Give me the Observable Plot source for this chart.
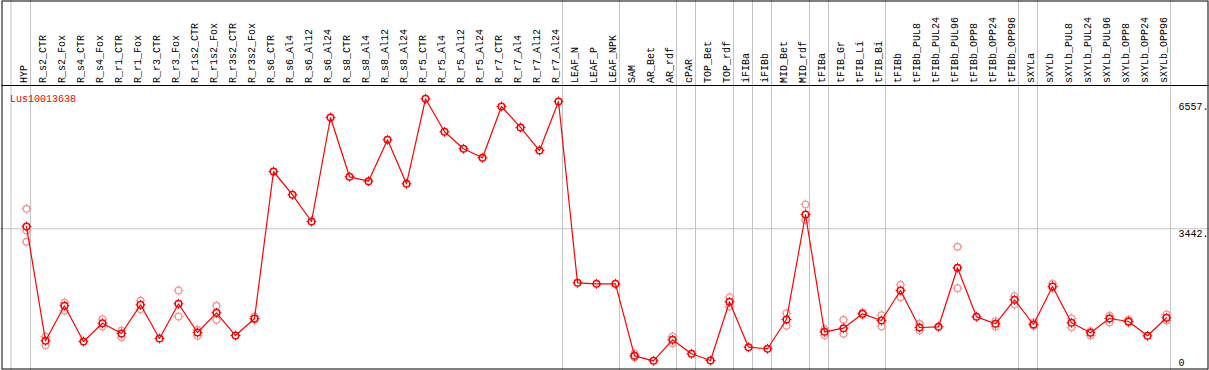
<!DOCTYPE html>
<html>
<head>
<meta charset="utf-8">
<script src="https://cdn.jsdelivr.net/npm/d3@7"></script>
<script src="https://cdn.jsdelivr.net/npm/@observablehq/plot@0.6"></script>
<style>
  html, body { margin: 0; padding: 0; background: #fff; }
  #chart svg { display: block; }
</style>
</head>
<body>
<div id="chart"></div>
<script>
// ---- data ----
const gene = "Lus10013638";

const categories = [
  "HYP", "R_s2_CTR", "R_s2_Fox", "R_s4_CTR", "R_s4_Fox", "R_r1_CTR", "R_r1_Fox",
  "R_r3_CTR", "R_r3_Fox", "R_r1s2_CTR", "R_r1s2_Fox", "R_r3s2_CTR", "R_r3s2_Fox",
  "R_s6_CTR", "R_s6_Al4", "R_s6_Al12", "R_s6_Al24", "R_s8_CTR", "R_s8_Al4", "R_s8_Al12",
  "R_s8_Al24", "R_r5_CTR", "R_r5_Al4", "R_r5_Al12", "R_r5_Al24", "R_r7_CTR", "R_r7_Al4",
  "R_r7_Al12", "R_r7_Al24", "LEAF_N", "LEAF_P", "LEAF_NPK", "SAM", "AR_Bet", "AR_rdf",
  "cPAR", "TOP_Bet", "TOP_rdf", "iFIBa", "iFIBb", "MID_Bet", "MID_rdf", "tFIBa",
  "tFIB_Gr", "tFIB_Li", "tFIB_Bi", "tFIBb", "tFIBb_PUL8", "tFIBb_PUL24", "tFIBb_PUL96",
  "tFIBb_OPP8", "tFIBb_OPP24", "tFIBb_OPP96", "sXYLa", "sXYLb", "sXYLb_PUL8",
  "sXYLb_PUL24", "sXYLb_PUL96", "sXYLb_OPP8", "sXYLb_OPP24", "sXYLb_OPP96"
];

// mean expression per sample (red line)
const means = [
  3497, 758, 1597, 742, 1180, 933, 1621,
  814, 1645, 957, 1429, 885, 1293,
  4815, 4257, 3617, 6109, 4688, 4583, 5575,
  4520, 6557, 5767, 5359, 5143, 6373, 5870,
  5318, 6493, 2148, 2124, 2124, 399, 279, 782,
  447, 286, 1693, 605, 567, 1269, 3785, 974,
  1060, 1405, 1245, 1964, 1077, 1094, 2508,
  1333, 1166, 1741, 1149, 2060, 1190,
  950, 1293, 1221, 878, 1310
];

// individual replicate values (pale circles), aligned with categories
const replicates = [
  [3921, 3401, 3131], [861, 653], [1676, 1484], [], [1276, 1101], [1005, 845], [1724, 1516],
  [], [1964, 1341], [1022, 878], [1597, 1262], [], [1341, 1262],
  [], [], [], [], [], [], [],
  [], [], [], [], [], [], [],
  [], [], [], [], [], [454, 365], [], [861, 701],
  [], [], [1803, 1580], [], [], [1420, 1118], [4024, 3650], [1036, 893],
  [1262, 926], [1437, 1380], [1372, 1101], [2100, 1803], [1166, 1005], [], [3011, 2019],
  [], [1228, 1101], [1827, 1628], [1197, 1118], [2124, 2028], [1293, 1084],
  [988, 885], [1357, 1197], [1262, 1197], [], [1389, 1245]
];

// last sample of each group (group separators)
const groupEnds = [
  "HYP", "R_r7_Al24", "LEAF_NPK", "AR_rdf", "cPAR", "TOP_rdf", "iFIBa", "iFIBb",
  "MID_rdf", "tFIBa", "tFIB_Bi", "tFIBb_OPP96", "sXYLa", "sXYLb_OPP96"
];

const yTicks = [6557, 3442, 0];
const yTickLabels = ["6557.", "3442.", "0"];

// ---- derived tables ----
const meanData = categories.map((c, i) => ({c, v: means[i]}));
const repData = categories.flatMap((c, i) => replicates[i].map(v => ({c, v})));
const tickData = yTicks.map((v, i) => ({v, label: yTickLabels[i]}));

const grid = "#c4c4c4";
const pale = "#f09a9a";
const red = "#ff0000";

function markerMarks(data, color) {
  return [
    Plot.dot(data, {x: "c", y: "v", symbol: "plus", r: 3.3, stroke: color, strokeWidth: 1}),
    Plot.dot(data, {x: "c", y: "v", r: 3.0, fill: "white", stroke: "none"}),
  ];
}

const chart = Plot.plot({
  width: 1209,
  height: 370,
  marginTop: 85,
  marginBottom: 0,
  marginLeft: 0,
  marginRight: 0,
  style: {
    fontFamily: "'Liberation Mono', 'DejaVu Sans Mono', monospace",
    fontSize: "10px",
    background: "white",
    color: "black"
  },
  x: {type: "point", domain: categories, range: [26.3, 1166.3], padding: 0, axis: null},
  y: {domain: [0, 6557], range: [371.95, 98.3], axis: null},
  marks: [
    // grid
    Plot.ruleY([3442], {stroke: grid, strokeWidth: 1}),
    Plot.ruleX(groupEnds, {x: d => d, dx: 4, stroke: grid, insetTop: -85}),
    Plot.ruleX(categories.slice(0, 1), {x: d => d, dx: -15.5, stroke: grid, insetTop: -85}),
    // frames
    Plot.frame({stroke: "black", insetLeft: 1.5, insetRight: 1.5, insetBottom: 1.5}),
    Plot.frame({stroke: "black", insetTop: -84.5, insetBottom: 285, insetLeft: 1.5, insetRight: 1.5}),
    // category labels (rotated)
    Plot.text(categories, {
      x: d => d, frameAnchor: "top", dy: -2.5, dx: 0.5, rotate: -90,
      textAnchor: "start", lineAnchor: "bottom", fill: "black"
    }),
    // gene name
    Plot.text([gene], {
      frameAnchor: "top-left", dx: 9.5, dy: 9, textAnchor: "start",
      lineAnchor: "top", fill: red
    }),
    // y tick labels
    Plot.text(tickData.slice(0, 1), {y: "v", text: "label", frameAnchor: "right", dx: -31, dy: 4.5, textAnchor: "start", lineAnchor: "top", fill: "black"}),
    Plot.text(tickData.slice(1, 2), {y: "v", text: "label", frameAnchor: "right", dx: -31, dy: 1.2, textAnchor: "start", lineAnchor: "top", fill: "black"}),
    Plot.text(tickData.slice(2), {text: "label", frameAnchor: "bottom-right", dx: -31, dy: -4.5, textAnchor: "start", lineAnchor: "bottom", fill: "black"}),
    // replicates
    ...markerMarks(repData, pale),
    Plot.dot(repData, {x: "c", y: "v", r: 3.3, stroke: pale, strokeWidth: 1.3, fill: "none"}),
    // means
    ...markerMarks(meanData, red),
    Plot.line(meanData, {x: "c", y: "v", stroke: red, strokeWidth: 1.2}),
    Plot.dot(meanData, {x: "c", y: "v", r: 3.3, stroke: red, strokeWidth: 1.5, fill: "none"})
  ]
});

document.getElementById("chart").append(chart);
</script>
</body>
</html>
